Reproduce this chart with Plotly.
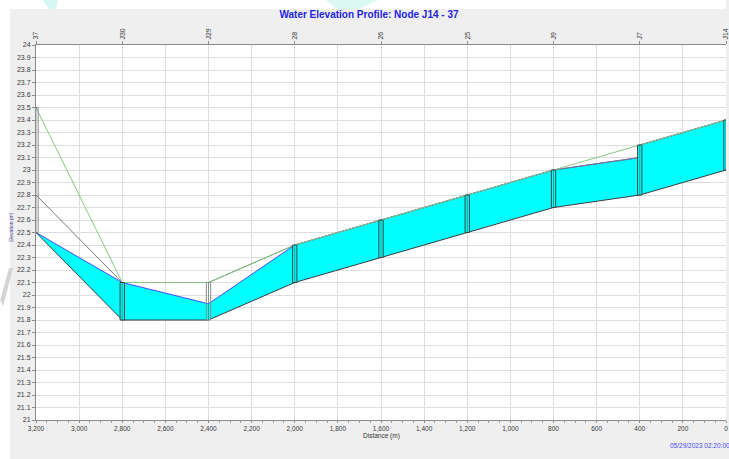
import plotly.graph_objects as go

# Profile nodes, listed upstream to downstream
node_names = ["37", "J30", "J29", "28", "26", "25", "J9", "J7", "J14"]
node_dist = [3200, 2800, 2400, 2000, 1600, 1200, 800, 400, 0]
node_invert = [22.5, 21.8, 21.8, 22.1, 22.3, 22.5, 22.7, 22.8, 23.0]
node_rim = [23.5, 22.1, 22.1, 22.4, 22.6, 22.8, 23.0, 23.2, 23.4]
node_head = [22.5, 22.1, 21.93, 22.4, 22.6, 22.8, 23.0, 23.2, 23.4]

# Conduits between consecutive nodes
link_diam = [0.3, 0.3, 0.3, 0.3, 0.3, 0.3, 0.3, 0.4]

x_ticks = list(range(0, 3201, 200))

W, H = 729, 459
ML, MR, MT, MB = 36, 0, 45, 39
PW, PH = W - ML - MR, H - MT - MB


def px(xp):
    return (xp - ML) / PW


def py(yp):
    return (H - MB - yp) / PH


def paper_path(points):
    return "M " + " L ".join(f"{px(a):.5f},{py(b):.5f}" for a, b in points) + " Z"


CYAN = "#00ffff"
WATER = "#4b4bff"
PIPE = "#3c3c3c"
GROUND = "#86c886"
NODE_EDGE = "#404040"

fig = go.Figure()

# Water in each conduit: filled between invert and water surface
fx, fy = [], []
wx, wy = [], []
ix, iy = [], []
cx, cy = [], []
for i, d in enumerate(link_diam):
    x0, x1 = node_dist[i], node_dist[i + 1]
    inv0, inv1 = node_invert[i], node_invert[i + 1]
    top0, top1 = inv0 + d, inv1 + d
    ws0 = min(node_head[i], top0)
    ws1 = min(node_head[i + 1], top1)
    fx += [x0, x1, x1, x0, x0, None]
    fy += [ws0, ws1, inv1, inv0, ws0, None]
    wx += [x0, x1, None]
    wy += [ws0, ws1, None]
    ix += [x0, x1, None]
    iy += [inv0, inv1, None]
    cx += [x0, x1, None]
    cy += [top0, top1, None]

fig.add_trace(go.Scatter(x=fx, y=fy, mode="lines", fill="toself",
                         fillcolor=CYAN, line=dict(width=0),
                         hoverinfo="skip", showlegend=False))
fig.add_trace(go.Scatter(x=wx, y=wy, mode="lines",
                         line=dict(color=WATER, width=1),
                         hoverinfo="skip", showlegend=False))
fig.add_trace(go.Scatter(x=ix, y=iy, mode="lines",
                         line=dict(color=PIPE, width=1),
                         hoverinfo="skip", showlegend=False))
fig.add_trace(go.Scatter(x=cx, y=cy, mode="lines",
                         line=dict(color="#7a7a7a", width=1),
                         hoverinfo="skip", showlegend=False))
# Ground surface along node rims
fig.add_trace(go.Scatter(x=node_dist, y=node_rim, mode="lines",
                         line=dict(color=GROUND, width=1),
                         hoverinfo="skip", showlegend=False))

# Node manholes: water-filled part, then outline
half = 10
shapes = []
for d, inv, rim, hd in zip(node_dist, node_invert, node_rim, node_head):
    if hd > inv:
        shapes.append(dict(type="rect", xref="x", yref="y",
                           x0=d - half, x1=d + half, y0=inv, y1=min(hd, rim),
                           fillcolor=CYAN, line=dict(width=0), layer="above"))
    shapes.append(dict(type="rect", xref="x", yref="y",
                       x0=d - half, x1=d + half, y0=inv, y1=rim,
                       fillcolor="rgba(0,0,0,0)",
                       line=dict(color=NODE_EDGE if hd >= rim else "#8a8a8a",
                                 width=1),
                       layer="above"))
    shapes.append(dict(type="line", xref="x", yref="y",
                       x0=d, x1=d, y0=inv, y1=rim,
                       line=dict(color="rgba(40,70,70,0.5)", width=1),
                       layer="above"))

# White border strips round the grey panel
shapes.append(dict(type="rect", xref="paper", yref="paper",
                   x0=px(0), x1=px(10), y0=py(H), y1=py(0),
                   fillcolor="white", line=dict(width=0), layer="below"))
shapes.append(dict(type="rect", xref="paper", yref="paper",
                   x0=px(0), x1=px(W), y0=py(9), y1=py(0),
                   fillcolor="white", line=dict(width=0), layer="below"))
# Faint decorative strokes in the top border and the left margin
shapes.append(dict(type="path", xref="paper", yref="paper",
                   path=paper_path([(42, 0), (58, 0), (56, 9), (49, 9)]),
                   fillcolor="#d8f7f2", line=dict(width=0), layer="below"))
shapes.append(dict(type="path", xref="paper", yref="paper",
                   path=paper_path([(327, 0), (380, 0), (360, 9), (338, 9)]),
                   fillcolor="#dcf8f3", line=dict(width=0), layer="below"))
shapes.append(dict(type="path", xref="paper", yref="paper",
                   path=paper_path([(0, 300), (9, 268), (13, 268), (3, 306)]),
                   fillcolor="#d4d4d4", line=dict(width=0), layer="below"))

# Invisible trace carrying the node-name axis
fig.add_trace(go.Scatter(x=node_dist, y=node_rim, xaxis="x2", mode="markers",
                         marker=dict(opacity=0), hoverinfo="skip",
                         showlegend=False))

tick_font = dict(family="Liberation Sans, Arial, sans-serif", size=7,
                 color="#3a3a3a")

fig.update_layout(
    width=W, height=H,
    margin=dict(l=ML, r=MR, t=MT, b=MB, pad=0),
    paper_bgcolor="#efefef",
    plot_bgcolor="white",
    shapes=shapes,
    title=dict(text="<b>Water Elevation Profile: Node J14 - 37</b>",
               xref="container", yref="container",
               x=369 / W, xanchor="center", y=1 - 14 / H, yanchor="middle",
               font=dict(family="Liberation Sans, Arial, sans-serif",
                         size=10, color="#2424e6")),
    xaxis=dict(range=[3200, 0], tickvals=x_ticks, tickformat=",d",
               showgrid=True, gridcolor="#dedede", gridwidth=1,
               zeroline=False, showline=True, linecolor="#8c8c8c",
               ticks="outside", ticklen=2, tickcolor="#8c8c8c",
               ticklabeloverflow="allow",
               minor=dict(dtick=50, ticks="outside", ticklen=2,
                          tickcolor="#a0a0a0", showgrid=False),
               tickfont=dict(tick_font, size=6.5)),
    xaxis2=dict(range=[3200, 0], overlaying="x", side="top", anchor="y",
                tickvals=node_dist, ticktext=node_names, tickangle=-90,
                showgrid=False, zeroline=False, showline=True,
                ticklabeloverflow="allow",
                linecolor="#8c8c8c", ticks="outside", ticklen=3,
                tickcolor="#8c8c8c", tickfont=tick_font),
    yaxis=dict(range=[21, 24], dtick=0.1, tick0=21,
               showgrid=True, gridcolor="#dedede", gridwidth=1,
               zeroline=False, showline=True, linecolor="#8c8c8c",
               ticks="outside", ticklen=3, tickcolor="#8c8c8c",
               tickfont=tick_font),
    annotations=[
        dict(text="Distance (m)", xref="paper", yref="paper",
             x=px(383), y=py(436), xanchor="center", yanchor="middle",
             showarrow=False,
             font=dict(family="Liberation Sans, Arial, sans-serif", size=6.5,
                       color="#333333")),
        dict(text="Elevation (m)", xref="paper", yref="paper",
             x=px(11), y=py(227), xanchor="center", yanchor="middle",
             textangle=-90, showarrow=False,
             font=dict(family="Liberation Sans, Arial, sans-serif", size=5,
                       color="#3a3a80")),
        dict(text="05/29/2023 02:20:00", xref="paper", yref="paper",
             x=px(671), y=py(446), xanchor="left", yanchor="middle",
             showarrow=False,
             font=dict(family="Liberation Sans, Arial, sans-serif", size=6.5,
                       color="#4a4aff")),
    ],
)

fig.write_html("out.html")
